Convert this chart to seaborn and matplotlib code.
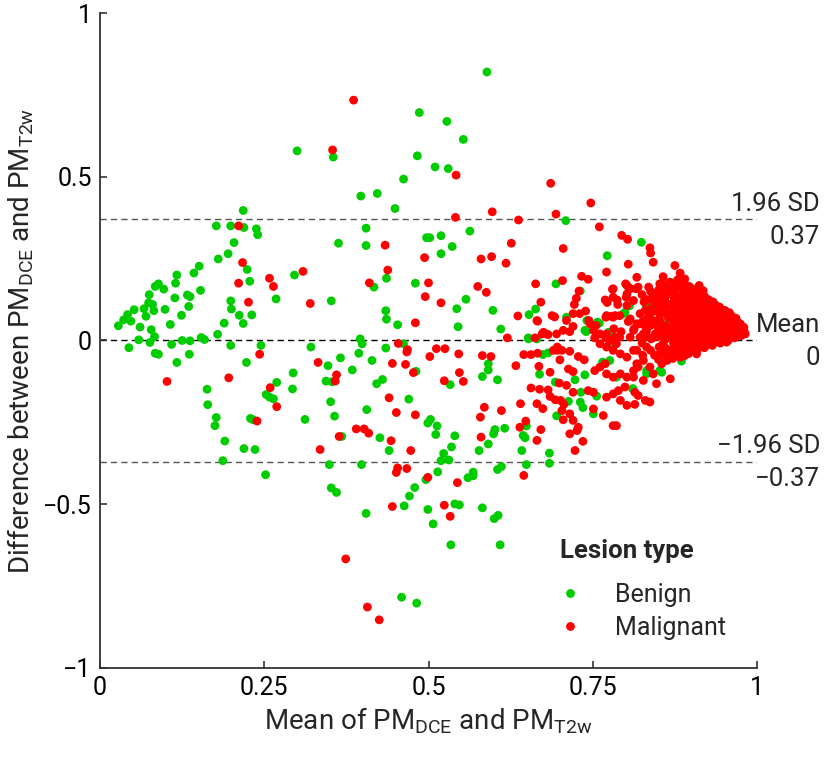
import pandas as pd
import seaborn as sns
from matplotlib import pyplot as plt

# (mean of PMs, difference of PMs), grouped by region
benign_left = [
    (0.218, 0.397), (0.177, 0.350), (0.199, 0.350), (0.219, 0.345), (0.238, 0.341), (0.240, 0.323),
    (0.204, 0.299), (0.195, 0.265), (0.180, 0.249), (0.151, 0.227), (0.143, 0.206), (0.117, 0.200),
    (0.115, 0.175), (0.089, 0.173), (0.084, 0.165), (0.097, 0.157), (0.153, 0.153), (0.224, 0.217),
    (0.228, 0.181), (0.075, 0.140), (0.114, 0.130), (0.133, 0.139), (0.137, 0.134), (0.074, 0.115),
    (0.080, 0.110), (0.067, 0.097), (0.052, 0.094), (0.082, 0.091), (0.099, 0.095), (0.135, 0.104),
    (0.070, 0.074), (0.042, 0.079), (0.036, 0.063), (0.047, 0.059), (0.028, 0.045), (0.061, 0.041),
    (0.078, 0.033), (0.107, 0.049), (0.124, 0.077), (0.199, 0.121), (0.200, 0.096), (0.212, 0.077),
    (0.231, 0.078), (0.189, 0.053), (0.218, 0.052), (0.179, 0.019), (0.268, 0.127), (0.296, 0.200),
    (0.083, 0.012), (0.059, 0.002), (0.076, -0.006), (0.109, -0.012), (0.125, 0.000), (0.137, -0.001),
    (0.154, 0.009), (0.159, 0.003), (0.044, -0.022), (0.084, -0.039), (0.089, -0.042), (0.136, -0.042),
    (0.199, -0.015), (0.245, -0.015), (0.117, -0.067), (0.223, -0.067), (0.163, -0.149), (0.164, -0.196),
    (0.177, -0.235), (0.175, -0.260), (0.190, -0.307), (0.187, -0.367), (0.219, -0.330), (0.236, -0.333),
    (0.252, -0.410), (0.229, -0.238), (0.233, -0.242), (0.253, -0.165), (0.258, -0.173), (0.264, -0.178),
    (0.269, -0.128), (0.294, -0.099), (0.293, -0.148), (0.312, -0.241),
]
benign_mid = [
    (0.486, 0.696), (0.528, 0.669), (0.553, 0.614), (0.300, 0.579), (0.355, 0.560), (0.483, 0.564),
    (0.510, 0.530), (0.530, 0.525), (0.462, 0.493), (0.397, 0.441), (0.422, 0.449), (0.449, 0.403),
    (0.405, 0.343), (0.363, 0.297), (0.405, 0.290), (0.497, 0.314), (0.502, 0.314), (0.519, 0.320),
    (0.519, 0.265), (0.536, 0.287), (0.436, 0.190), (0.417, 0.163), (0.480, 0.175), (0.352, 0.121),
    (0.435, 0.091), (0.436, 0.065), (0.453, 0.048), (0.543, 0.097), (0.557, 0.126), (0.545, 0.042),
    (0.321, -0.020), (0.396, 0.005), (0.399, -0.010), (0.435, -0.023), (0.563, 0.334),
    (0.394, -0.039), (0.462, -0.010), (0.366, -0.053), (0.347, -0.077), (0.414, -0.061), (0.384, -0.090),
    (0.344, -0.124), (0.353, -0.126), (0.421, -0.132), (0.430, -0.119), (0.481, -0.094), (0.533, -0.135),
    (0.351, -0.187), (0.357, -0.231), (0.406, -0.211), (0.470, -0.179), (0.368, -0.293), (0.426, -0.297),
    (0.440, -0.336), (0.499, -0.252), (0.503, -0.241), (0.513, -0.261), (0.511, -0.287), (0.540, -0.291),
    (0.535, -0.325), (0.523, -0.345), (0.519, -0.367), (0.531, -0.365), (0.349, -0.379), (0.398, -0.379),
    (0.514, -0.401), (0.496, -0.425), (0.479, -0.449), (0.471, -0.475), (0.463, -0.505), (0.499, -0.516),
    (0.507, -0.560), (0.540, -0.499), (0.547, -0.502), (0.560, -0.419), (0.352, -0.450), (0.360, -0.464),
    (0.405, -0.528), (0.534, -0.624), (0.459, -0.784), (0.482, -0.802),
]
benign_right = [
    (0.589, 0.820), (0.709, 0.366), (0.772, 0.259), (0.694, 0.173), (0.598, 0.092), (0.610, 0.035),
    (0.653, 0.079), (0.663, 0.096), (0.731, 0.151), (0.710, 0.071), (0.740, 0.027), (0.799, 0.086),
    (0.806, 0.106), (0.760, 0.053), (0.591, -0.071), (0.591, -0.090), (0.582, -0.110), (0.605, -0.120),
    (0.674, -0.043), (0.682, -0.038), (0.669, -0.103), (0.693, -0.127), (0.723, -0.120), (0.738, -0.105),
    (0.732, -0.158), (0.756, -0.170), (0.713, -0.186), (0.731, -0.188), (0.735, -0.205), (0.695, -0.230),
    (0.751, -0.224), (0.811, -0.147), (0.776, -0.061), (0.652, 0.008), (0.601, -0.272), (0.599, -0.285),
    (0.616, -0.268), (0.591, -0.316), (0.577, -0.336), (0.644, -0.290), (0.647, -0.297), (0.649, -0.261),
    (0.642, -0.336), (0.684, -0.344), (0.684, -0.375), (0.649, -0.379), (0.611, -0.385), (0.605, -0.394),
    (0.568, -0.402), (0.568, -0.413), (0.582, -0.511), (0.606, -0.534), (0.600, -0.544), (0.609, -0.624),
    (0.824, 0.300), (0.868, 0.178), (0.863, 0.173), (0.852, 0.148), (0.857, 0.148), (0.860, 0.092),
    (0.832, 0.107), (0.865, 0.056), (0.885, -0.063), (0.832, -0.102), (0.855, -0.097), (0.811, -0.148),
    (0.851, 0.150), (0.857, 0.076), (0.832, 0.102), (0.867, 0.061), (0.797, 0.082), (0.776, 0.020),
    (0.776, -0.010), (0.738, 0.031), (0.652, 0.005), (0.665, 0.005), (0.765, -0.066), (0.786, -0.112),
    (0.832, -0.092), (0.852, -0.092), (0.741, 0.061), (0.757, 0.056), (0.774, 0.025), (0.781, 0.000),
]
malignant_left = [
    (0.211, 0.350), (0.217, 0.238), (0.211, 0.175), (0.226, 0.117), (0.258, 0.190), (0.264, 0.165),
    (0.309, 0.211), (0.243, -0.042), (0.102, -0.125), (0.196, -0.114), (0.259, -0.144), (0.269, -0.202),
    (0.239, -0.246),
    (0.386, 0.734), (0.354, 0.582), (0.542, 0.505), (0.541, 0.376), (0.434, 0.291), (0.494, 0.253),
    (0.438, 0.215), (0.410, 0.176), (0.500, 0.176), (0.495, 0.134), (0.519, 0.115), (0.320, 0.113),
    (0.480, 0.054), (0.454, -0.009), (0.468, -0.028), (0.512, -0.025), (0.525, -0.025),
    (0.332, -0.067), (0.360, -0.105), (0.358, -0.124), (0.445, -0.070), (0.465, -0.073), (0.467, -0.035),
    (0.477, -0.098), (0.502, -0.049), (0.546, -0.041), (0.547, -0.098), (0.524, -0.123), (0.553, -0.125),
    (0.440, -0.175), (0.451, -0.220), (0.480, -0.227), (0.390, -0.270), (0.402, -0.270), (0.409, -0.283),
    (0.364, -0.293), (0.443, -0.306), (0.335, -0.333), (0.473, -0.336), (0.453, -0.389), (0.451, -0.403),
    (0.467, -0.391), (0.499, -0.418), (0.544, -0.434), (0.524, -0.503), (0.533, -0.537), (0.445, -0.507),
    (0.374, -0.667), (0.407, -0.814), (0.425, -0.853),
]
malignant_right = [
    (0.686, 0.480), (0.747, 0.420), (0.597, 0.393), (0.694, 0.386), (0.637, 0.368), (0.760, 0.347),
    (0.794, 0.321), (0.803, 0.309), (0.626, 0.297), (0.705, 0.281), (0.580, 0.249), (0.596, 0.256),
    (0.618, 0.236), (0.804, 0.233), (0.771, 0.209), (0.733, 0.196), (0.743, 0.187), (0.704, 0.183),
    (0.663, 0.173), (0.575, 0.165), (0.588, 0.147), (0.729, 0.151), (0.725, 0.129), (0.780, 0.156),
    (0.800, 0.173), (0.805, 0.161), (0.817, 0.193), (0.671, 0.117), (0.722, 0.110), (0.769, 0.124),
    (0.772, 0.116), (0.787, 0.124), (0.788, 0.110), (0.801, 0.132), (0.636, 0.075), (0.666, 0.059),
    (0.692, 0.072), (0.720, 0.082), (0.730, 0.082), (0.739, 0.090), (0.744, 0.061), (0.755, 0.046),
    (0.770, 0.071), (0.779, 0.074), (0.784, 0.076), (0.804, 0.058), (0.720, 0.043), (0.715, 0.027),
    (0.782, 0.036), (0.793, 0.027), (0.813, 0.036), (0.817, 0.051), (0.620, 0.008), (0.673, 0.020),
    (0.682, 0.018), (0.662, 0.008), (0.753, 0.008), (0.770, 0.008), (0.784, 0.010),
    (0.582, -0.046), (0.595, -0.049), (0.633, -0.077), (0.645, -0.043), (0.656, -0.043), (0.666, -0.039),
    (0.668, -0.079), (0.685, -0.097), (0.690, -0.030), (0.696, -0.030), (0.700, -0.059), (0.715, -0.033),
    (0.728, -0.049), (0.737, -0.059), (0.713, -0.087), (0.720, -0.095), (0.699, -0.130), (0.710, -0.137),
    (0.720, -0.158), (0.656, -0.145), (0.669, -0.149), (0.682, -0.151), (0.685, -0.171), (0.693, -0.181),
    (0.701, -0.183), (0.706, -0.195), (0.665, -0.193), (0.674, -0.208), (0.640, -0.193), (0.611, -0.214),
    (0.585, -0.204), (0.579, -0.234), (0.648, -0.246), (0.639, -0.265), (0.671, -0.272), (0.665, -0.305),
    (0.703, -0.214), (0.705, -0.242), (0.715, -0.224), (0.720, -0.244), (0.728, -0.265), (0.726, -0.275),
    (0.715, -0.285), (0.735, -0.308), (0.723, -0.336), (0.580, -0.295), (0.645, -0.412), (0.743, -0.153),
    (0.751, -0.158), (0.753, -0.092), (0.761, -0.081), (0.769, -0.071), (0.751, -0.209), (0.766, -0.229),
    (0.771, -0.173), (0.781, -0.163), (0.789, -0.153), (0.799, -0.142), (0.781, -0.260), (0.786, -0.260),
    (0.792, -0.183), (0.802, -0.198), (0.771, -0.102), (0.781, -0.112), (0.792, -0.102), (0.802, -0.112),
    (0.812, -0.092), (0.761, -0.010), (0.771, -0.020), (0.781, -0.030), (0.792, -0.041), (0.802, -0.051),
    (0.812, -0.030), (0.817, -0.071), (0.696, -0.020), (0.703, -0.030),
    (0.837, 0.283), (0.838, 0.267), (0.842, 0.239), (0.875, 0.229), (0.883, 0.206), (0.890, 0.188),
    (0.857, 0.195), (0.855, 0.173), (0.835, 0.163), (0.816, 0.158), (0.867, 0.178), (0.852, 0.173),
    (0.850, 0.153), (0.857, 0.142), (0.842, 0.122), (0.847, 0.102), (0.837, 0.082), (0.842, 0.061),
    (0.852, 0.082), (0.822, 0.082), (0.822, 0.051), (0.832, 0.031), (0.812, 0.031), (0.822, 0.010),
    (0.807, 0.066), (0.802, 0.107), (0.791, 0.076), (0.781, 0.071), (0.771, 0.076), (0.812, 0.122),
    (0.802, 0.142), (0.781, 0.158), (0.781, 0.132), (0.802, 0.168), (0.807, 0.158), (0.819, 0.163),
    (0.830, 0.092), (0.835, 0.071), (0.746, 0.051), (0.751, 0.031), (0.761, 0.020), (0.771, 0.020),
    (0.776, 0.000), (0.786, -0.010), (0.791, 0.010), (0.807, 0.010), (0.688, 0.076), (0.695, 0.020),
    (0.705, 0.031), (0.710, 0.061), (0.665, 0.061), (0.675, 0.025), (0.680, 0.020),
    (0.817, -0.030), (0.827, -0.061), (0.819, -0.081), (0.837, -0.081), (0.842, -0.102), (0.847, -0.132),
    (0.855, -0.071), (0.868, -0.117), (0.812, -0.112), (0.827, -0.122), (0.814, -0.158), (0.819, -0.168),
    (0.830, -0.183), (0.837, -0.188), (0.814, -0.195), (0.883, -0.051), (0.890, -0.046), (0.908, -0.041),
    (0.928, -0.010), (0.954, -0.005), (0.982, 0.020), (0.898, -0.020), (0.913, -0.010), (0.939, 0.005),
    (0.959, 0.010), (0.969, 0.015), (0.857, -0.010), (0.868, -0.030), (0.878, -0.020), (0.852, -0.041),
    (0.863, -0.061),
]
# the dense wedge of malignant lesions near PM = 0.9
malignant_cluster = [
    (0.872, -0.055), (0.871, -0.030), (0.873, -0.008), (0.872, 0.015), (0.870, 0.038), (0.873, 0.060),
    (0.872, 0.083), (0.871, 0.105), (0.874, 0.128), (0.872, 0.150), (0.873, 0.168),
    (0.884, -0.048), (0.885, -0.022), (0.883, 0.002), (0.884, 0.025), (0.886, 0.047), (0.884, 0.070),
    (0.883, 0.092), (0.885, 0.115), (0.884, 0.137), (0.886, 0.160), (0.882, 0.172),
    (0.896, -0.040), (0.897, -0.015), (0.895, 0.008), (0.896, 0.032), (0.898, 0.055), (0.895, 0.078),
    (0.897, 0.100), (0.896, 0.123), (0.894, 0.147), (0.897, 0.165),
    (0.908, -0.032), (0.909, -0.008), (0.907, 0.015), (0.908, 0.040), (0.910, 0.062), (0.907, 0.085),
    (0.909, 0.108), (0.908, 0.130), (0.906, 0.155), (0.912, 0.168),
    (0.920, -0.022), (0.921, 0.000), (0.919, 0.022), (0.920, 0.045), (0.922, 0.068), (0.919, 0.090),
    (0.921, 0.112), (0.920, 0.135), (0.918, 0.152),
    (0.932, -0.015), (0.933, 0.008), (0.931, 0.030), (0.932, 0.052), (0.934, 0.075), (0.931, 0.097),
    (0.933, 0.118),
    (0.944, -0.008), (0.945, 0.015), (0.943, 0.037), (0.944, 0.058), (0.946, 0.080), (0.943, 0.102),
    (0.956, 0.000), (0.957, 0.022), (0.955, 0.043), (0.956, 0.065), (0.958, 0.085),
    (0.966, 0.008), (0.967, 0.028), (0.965, 0.048), (0.968, 0.068),
    (0.976, 0.015), (0.977, 0.035), (0.975, 0.050),
    (0.878, -0.042), (0.879, -0.019), (0.877, 0.004), (0.878, 0.027), (0.879, 0.049), (0.877, 0.072),
    (0.878, 0.094), (0.879, 0.117), (0.877, 0.139), (0.878, 0.162), (0.879, 0.185),
    (0.890, -0.036), (0.891, -0.012), (0.889, 0.012), (0.890, 0.036), (0.891, 0.058), (0.889, 0.082),
    (0.890, 0.104), (0.891, 0.126), (0.889, 0.150), (0.890, 0.172),
    (0.902, -0.028), (0.903, -0.004), (0.901, 0.020), (0.902, 0.044), (0.903, 0.066), (0.901, 0.090),
    (0.902, 0.112), (0.903, 0.136), (0.901, 0.158),
    (0.914, -0.020), (0.915, 0.004), (0.913, 0.028), (0.914, 0.050), (0.915, 0.074), (0.913, 0.096),
    (0.914, 0.120), (0.915, 0.142),
    (0.926, -0.012), (0.927, 0.012), (0.925, 0.034), (0.926, 0.056), (0.927, 0.080), (0.925, 0.102),
    (0.926, 0.125),
    (0.938, -0.004), (0.939, 0.018), (0.937, 0.041), (0.938, 0.063), (0.939, 0.086), (0.937, 0.108),
    (0.950, 0.005), (0.951, 0.027), (0.949, 0.048), (0.950, 0.070), (0.951, 0.092),
    (0.961, 0.012), (0.962, 0.033), (0.960, 0.055), (0.961, 0.075),
    (0.971, 0.018), (0.972, 0.038), (0.970, 0.058),
    (0.981, 0.025), (0.980, 0.040),
    (0.826, -0.045), (0.825, -0.008), (0.827, 0.020), (0.826, 0.058), (0.828, 0.118), (0.825, 0.140),
    (0.838, -0.030), (0.839, 0.005), (0.837, 0.045), (0.838, 0.098), (0.840, 0.128), (0.838, 0.150),
    (0.850, -0.058), (0.851, -0.020), (0.849, 0.012), (0.850, 0.035), (0.851, 0.065), (0.849, 0.110),
    (0.850, 0.130), (0.852, 0.160),
    (0.861, -0.045), (0.862, -0.025), (0.860, 0.002), (0.861, 0.028), (0.862, 0.044), (0.861, 0.088),
    (0.860, 0.120), (0.862, 0.138), (0.861, 0.162),
    (0.832, -0.020), (0.833, 0.012), (0.831, 0.040), (0.832, 0.065), (0.833, 0.125),
    (0.844, -0.045), (0.845, 0.020), (0.843, 0.050), (0.844, 0.090), (0.845, 0.140),
    (0.856, -0.030), (0.857, 0.022), (0.855, 0.050), (0.856, 0.100), (0.857, 0.120),
    (0.866, -0.040), (0.867, 0.010), (0.865, 0.070), (0.866, 0.110), (0.867, 0.150),
]

mean_diff = 0.0
loa_upper = 0.37
loa_lower = -0.37
lesion_types = ['Benign', 'Malignant']
lesion_colors = {'Benign': '#00cc00', 'Malignant': '#ff0000'}

rows = []
for label, groups in [('Benign', [benign_left, benign_mid, benign_right]),
                      ('Malignant', [malignant_left, malignant_right, malignant_cluster])]:
    for g in groups:
        for m, d in g:
            rows.append({'mean': m, 'diff': d, 'Lesion type': label})
df = pd.DataFrame(rows)

sns.set_theme(style='ticks')
plt.rcParams['font.family'] = ['Roboto', 'DejaVu Sans']
plt.rcParams['mathtext.fontset'] = 'custom'
plt.rcParams['mathtext.rm'] = 'Roboto'
plt.rcParams['mathtext.it'] = 'Roboto:italic'
plt.rcParams['mathtext.bf'] = 'Roboto:bold'

fig, ax = plt.subplots(figsize=(8.25, 7.57), dpi=100)
fig.subplots_adjust(left=0.1212, right=0.9176, bottom=0.1176, top=0.9828)

sns.scatterplot(data=df, x='mean', y='diff', hue='Lesion type', hue_order=lesion_types,
                palette=lesion_colors, s=40, linewidth=0, alpha=1, ax=ax)

ax.axhline(mean_diff, color='black', lw=1, ls=(0, (4.5, 3)), zorder=0)
ax.axhline(loa_upper, color='#555555', lw=1, ls=(0, (4.5, 3)), zorder=0)
ax.axhline(loa_lower, color='#555555', lw=1, ls=(0, (4.5, 3)), zorder=0)

tr = ax.get_yaxis_transform()
for yv, top, bottom in [(loa_upper, '1.96 SD', f'{loa_upper:.2f}'),
                        (mean_diff, 'Mean', f'{mean_diff:g}'),
                        (loa_lower, '\u22121.96 SD', f'\u2212{abs(loa_lower):.2f}')]:
    ax.text(1.096, yv + 0.010, top, transform=tr, ha='right', va='bottom', fontsize=18.5, clip_on=False)
    ax.text(1.096, yv - 0.016, bottom, transform=tr, ha='right', va='top', fontsize=18.5, clip_on=False)

ax.set_xlim(0, 1)
ax.set_ylim(-1, 1)
ax.set_xticks([0, 0.25, 0.5, 0.75, 1])
ax.set_xticklabels(['0', '0.25', '0.5', '0.75', '1'])
ax.set_yticks([-1, -0.5, 0, 0.5, 1])
ax.set_yticklabels(['\u22121', '\u22120.5', '0', '0.5', '1'])
ax.tick_params(direction='in', length=5, width=1.2, labelsize=18, pad=6, colors='#333333',
               labelcolor='black')
for side in ['left', 'bottom']:
    ax.spines[side].set_color('#333333')
    ax.spines[side].set_linewidth(1.3)
sns.despine(ax=ax)

ax.set_xlabel(r'Mean of PM$_{\mathrm{DCE}}$ and PM$_{\mathrm{T2w}}$', fontsize=20)
ax.set_ylabel(r'Difference between PM$_{\mathrm{DCE}}$ and PM$_{\mathrm{T2w}}$', fontsize=20)
ax.yaxis.set_label_coords(-0.097, 0.5)

sns.move_legend(ax, 'lower left', bbox_to_anchor=(0.70, 0.043), frameon=False,
                title='Lesion type', title_fontproperties={'weight': 'bold', 'size': 18.5},
                fontsize=18, handlelength=0.8, handletextpad=1.4, labelspacing=0.36,
                borderpad=0, borderaxespad=0, alignment='left')
# a little more room between the legend title and its entries
ax.get_legend()._legend_box.sep = 14.5

fig.savefig('out.png', dpi=100)
